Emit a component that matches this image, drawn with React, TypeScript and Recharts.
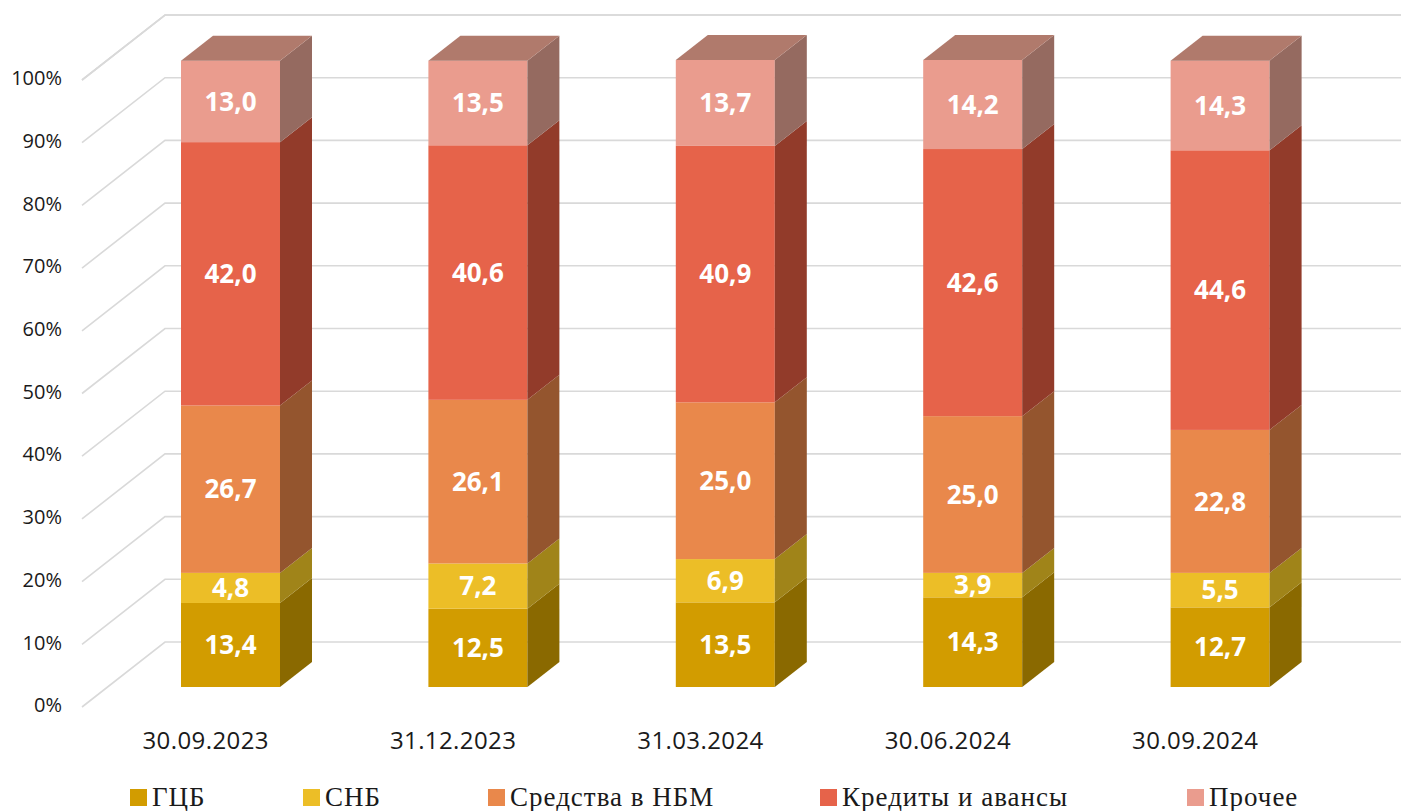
import { BarChart, Bar, XAxis, YAxis, CartesianGrid, Legend, LabelList } from 'recharts';

// даты отчётов
const categories = ['30.09.2023', '31.12.2023', '31.03.2024', '30.06.2024', '30.09.2024'];

// доли в структуре активов, %
const gcb = [13.4, 12.5, 13.5, 14.3, 12.7];
const snb = [4.8, 7.2, 6.9, 3.9, 5.5];
const nbm = [26.7, 26.1, 25.0, 25.0, 22.8];
const credits = [42.0, 40.6, 40.9, 42.6, 44.6];
const other = [13.0, 13.5, 13.7, 14.2, 14.3];

const yTicks = [0, 10, 20, 30, 40, 50, 60, 70, 80, 90, 100];

const data = categories.map((date, i) => ({
  date,
  gcb: gcb[i],
  snb: snb[i],
  nbm: nbm[i],
  credits: credits[i],
  other: other[i],
}));

const series = [
  { key: 'gcb', name: 'ГЦБ', front: '#D29C00', side: '#8A6900', top: '#8A6900' },
  { key: 'snb', name: 'СНБ', front: '#ECBE27', side: '#A08419', top: '#A08419' },
  { key: 'nbm', name: 'Средства в НБМ', front: '#E9884B', side: '#94552E', top: '#94552E' },
  { key: 'credits', name: 'Кредиты и авансы', front: '#E6634A', side: '#923B2A', top: '#923B2A' },
  { key: 'other', name: 'Прочее', front: '#EA9C8E', side: '#956A60', top: '#B07A6C' },
];

// глубина столбика
const DX = 32;
const DY = 25;

const make3D = (front: string, side: string, top: string, isTop: boolean) => (props: any) => {
  const { x, y, width: w, height: h } = props;
  if (!h || h <= 0) return <g />;
  return (
    <g>
      <rect x={x} y={y} width={w} height={h} fill={front} />
      <polygon
        points={`${x + w},${y + h} ${x + w + DX},${y + h - DY} ${x + w + DX},${y - DY} ${x + w},${y}`}
        fill={side}
      />
      {isTop && (
        <polygon points={`${x},${y} ${x + DX},${y - DY} ${x + w + DX},${y - DY} ${x + w},${y}`} fill={top} />
      )}
    </g>
  );
};

// линии сетки на боковой и задней стенке
const WallLine = (props: any) => {
  const { x1, y1, x2, index } = props;
  return (
    <path
      key={`wall-${index}`}
      d={`M${x1 - 25},${y1 + 20} L${x1 + 58},${y1 - 45} L${x2 + 57},${y1 - 45}`}
      stroke="#D9D9D9"
      strokeWidth={1.6}
      fill="none"
    />
  );
};

const YTick = (props: any) => {
  const { x, y, payload } = props;
  return (
    <text x={x} y={y + 18} dy="0.36em" textAnchor="end" fontFamily="'Open Sans', sans-serif" fontSize={20} fill="#1A1A1A">
      {payload.value}%
    </text>
  );
};

const XTick = (props: any) => {
  const { x, y, payload } = props;
  return (
    <text
      x={x - 25}
      y={y}
      dy="0.36em"
      textAnchor="middle"
      fontFamily="'Open Sans', sans-serif"
      fontSize={24}
      letterSpacing={0.4}
      fill="#1A1A1A"
    >
      {payload.value}
    </text>
  );
};

const legendWidths = [173, 185, 332, 367, 120];

const LegendContent = () => (
  <div
    style={{
      display: 'flex',
      height: 28,
      alignItems: 'center',
      paddingLeft: 130,
      fontFamily: "'Liberation Serif', serif",
      fontSize: 27,
      letterSpacing: 1,
      color: '#1A1A1A',
      whiteSpace: 'nowrap',
    }}
  >
    {series.map((s, i) => (
      <div key={s.key} style={{ width: legendWidths[i], flexShrink: 0, display: 'flex', alignItems: 'center' }}>
        <span style={{ width: 17, height: 17, background: s.front, display: 'inline-block', marginRight: 5 }} />
        <span>{s.name}</span>
      </div>
    ))}
  </div>
);

const fmt = (v: any) => Number(v).toFixed(1).replace('.', ',');

export default function App() {
  return (
    <div style={{ position: 'absolute', left: 0, top: 0, background: '#fff' }}>
      <BarChart width={1401} height={811} data={data} margin={{ top: 60, right: 57, bottom: 0, left: 0 }}>
        <CartesianGrid vertical={false} horizontal={WallLine} />
        <YAxis
          domain={[0, 100]}
          ticks={yTicks}
          width={107}
          axisLine={false}
          tickLine={false}
          tickSize={0}
          tickMargin={45}
          tick={<YTick />}
        />
        <XAxis
          dataKey="date"
          height={96}
          axisLine={false}
          tickLine={false}
          tickSize={0}
          tickMargin={53}
          tick={<XTick />}
        />
        <Legend verticalAlign="bottom" content={<LegendContent />} />
        {series.map((s, i) => (
          <Bar
            key={s.key}
            dataKey={s.key}
            name={s.name}
            stackId="a"
            barSize={99}
            fill={s.front}
            isAnimationActive={false}
            shape={make3D(s.front, s.side, s.top, i === series.length - 1)}
          >
            <LabelList
              dataKey={s.key}
              position="center"
              formatter={fmt}
              fill="#FFFFFF"
              style={{ fontFamily: "'Open Sans', sans-serif", fontSize: 26, fontWeight: 700 }}
            />
          </Bar>
        ))}
      </BarChart>
    </div>
  );
}
